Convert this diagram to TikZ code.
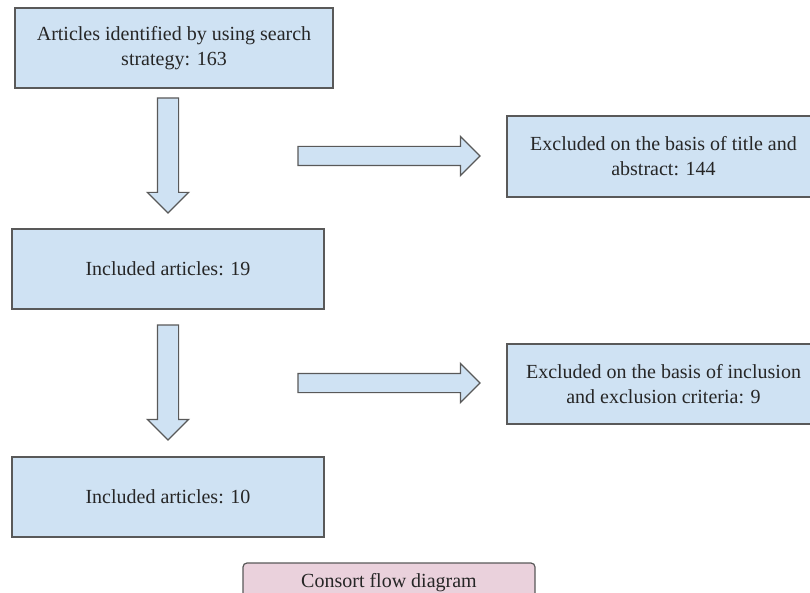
\documentclass[tikz,border=0pt]{standalone}
\usepackage{fontspec}
\setmainfont{Liberation Serif}
\usepackage{xcolor}
\usetikzlibrary{shapes.arrows, positioning}
\definecolor{boxblue}{HTML}{CFE2F3}
\definecolor{boxpink}{HTML}{EAD1DC}
\definecolor{edgegray}{HTML}{595959}
\definecolor{textgray}{HTML}{262626}
\tikzset{
    flowbox/.style={rectangle, draw=edgegray, fill=boxblue, line width=1.2pt, minimum height=80pt, align=center, text=textgray, font=\fontsize{20}{25}\selectfont},
    capbox/.style={rectangle, draw=edgegray, fill=boxpink, line width=1.2pt, rounded corners=4pt, minimum width=292pt, minimum height=40pt, text=textgray, font=\fontsize{20}{25}\selectfont},
    blockarrow/.style={single arrow, draw=edgegray, fill=boxblue, line width=1.2pt, inner xsep=0pt, outer sep=0pt, single arrow head extend=10pt, anchor=tail},
    downarrow/.style={blockarrow, minimum height=115pt, inner ysep=10pt, rotate=-90},
    rightarrow/.style={blockarrow, minimum height=182pt, inner ysep=9pt}
}

\begin{document}
\begin{tikzpicture}[x=1pt, y=-1pt]

\clip (0,0) rectangle (810,593);

\node[flowbox, minimum width=318pt] (s1) at (174,48) {Articles identified by using search\\strategy: 163};
\node[flowbox, minimum width=312pt] (s2) at (168,269) {Included articles: 19};
\node[flowbox, minimum width=312pt] (s3) at (168,497) {Included articles: 10};
\node[flowbox, minimum width=313pt, minimum height=81pt] (x1) at (663.5,156.5) {Excluded on the basis of title and\\abstract: 144};
\node[flowbox, minimum width=313pt] (x2) at (663.5,384) {Excluded on the basis of inclusion\\and exclusion criteria: 9};
\node[capbox] (cap) at (389,583) {Consort flow diagram};

% block arrows between the boxes
\node[downarrow] (d1) at (168,98) {};
\node[downarrow] (d2) at (168,325) {};
\node[rightarrow] (r1) at (298,156) {};
\node[rightarrow] (r2) at (298,383) {};

\end{tikzpicture}
\end{document}
